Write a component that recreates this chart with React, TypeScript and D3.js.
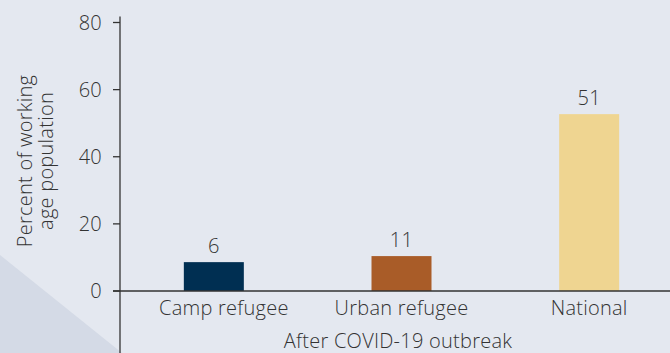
import * as React from 'react';
import * as d3 from 'd3';

const categories = ['Camp refugee', 'Urban refugee', 'National'];
const barValues = [8.6, 10.4, 52.7];
const labels = ['6', '11', '51'];
const colors = ['#002f52', '#a95c28', '#efd591'];
const yTicks = [0, 20, 40, 60, 80];

const width = 670;
const height = 353;
const axisX = 120;
const font = '"Open Sans", Lato, sans-serif';
const ink = '#333333';
const fs = 20;

const App: React.FC = () => {
  const x = d3.scalePoint<string>().domain(categories).range([axisX, 683]).padding(0.5);
  const y = d3.scaleLinear().domain([0, 80]).range([291, 22.5]);
  const barW = 60;

  return (
    <svg
      width={width}
      height={height}
      style={{ position: 'absolute', left: 0, top: 0, display: 'block' }}
      fontFamily={font}
      fontWeight={300}
      letterSpacing={0.25}
    >
      <rect width={width} height={height} fill="#e4e8f0" />
      <path d={`M0,255 L122,${height} L0,${height} Z`} fill="#d4dae6" />

      {categories.map((c, i) => (
        <g key={c}>
          <rect
            x={(x(c) || 0) - barW / 2}
            y={y(barValues[i])}
            width={barW}
            height={y(0) - y(barValues[i])}
            fill={colors[i]}
          />
          <text x={x(c)} y={y(barValues[i]) - 9} textAnchor="middle" fontSize={fs} fill={ink}>
            {labels[i]}
          </text>
          {/* first label is nudged right, clear of the axis */}
          <text x={x(c)} dx={i === 0 ? 10 : 0} y={315} textAnchor="middle" fontSize={fs} fill={ink}>
            {c}
          </text>
        </g>
      ))}

      <line x1={axisX - 7} x2={width} y1={y(0)} y2={y(0)} stroke={ink} strokeWidth={1.3} />
      <line x1={axisX} x2={axisX} y1={y(80) - 6} y2={height} stroke={ink} strokeWidth={1.3} />
      {yTicks.map((t) => (
        <g key={t}>
          <line x1={axisX - 7} x2={axisX} y1={y(t)} y2={y(t)} stroke={ink} strokeWidth={1.3} />
          <text x={102} y={y(t)} dy="0.35em" textAnchor="end" fontSize={fs} fill={ink}>
            {t}
          </text>
        </g>
      ))}

      <text
        transform="translate(32,161) rotate(-90)"
        textAnchor="middle"
        fontSize={fs}
        fill={ink}
      >
        <tspan x={0} dy={0}>Percent of working</tspan>
        <tspan x={0} dy={21}>age population</tspan>
      </text>

      <text x={398} y={348} textAnchor="middle" fontSize={fs} fill={ink}>
        After COVID-19 outbreak
      </text>
    </svg>
  );
};

export default App;
